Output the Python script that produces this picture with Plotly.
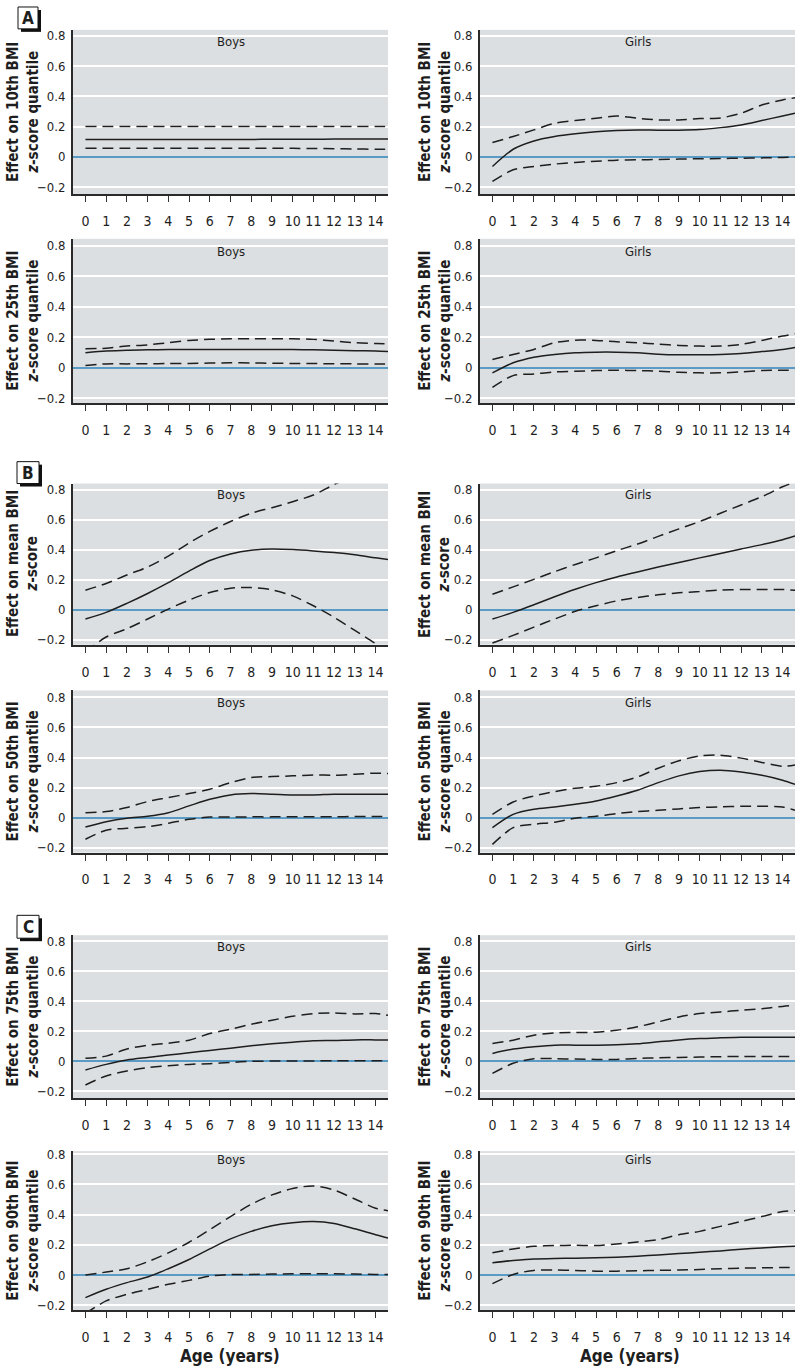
import plotly.graph_objects as go

ages = [0, 1, 2, 3, 4, 5, 6, 7, 8, 9, 10, 11, 12, 13, 14, 14.6]
x_ticks = list(range(15))
y_ticks = [-0.2, 0, 0.2, 0.4, 0.6, 0.8]
y_ticktext = ["\u22120.2", "0", "0.2", "0.4", "0.6", "0.8"]

# Panel A: 10th quantile
boys10_est = [0.115, 0.115, 0.115, 0.115, 0.115, 0.115, 0.115, 0.115, 0.115, 0.116, 0.116, 0.116, 0.117, 0.117, 0.118, 0.118]
boys10_hi = [0.2, 0.2, 0.2, 0.2, 0.2, 0.2, 0.2, 0.2, 0.2, 0.2, 0.2, 0.2, 0.2, 0.2, 0.2, 0.2]
boys10_lo = [0.057, 0.057, 0.057, 0.057, 0.057, 0.057, 0.057, 0.057, 0.057, 0.056, 0.056, 0.055, 0.054, 0.052, 0.05, 0.05]
girls10_est = [-0.064, 0.05, 0.105, 0.134, 0.152, 0.165, 0.174, 0.178, 0.176, 0.176, 0.18, 0.193, 0.211, 0.24, 0.27, 0.288]
girls10_hi = [0.095, 0.134, 0.178, 0.222, 0.24, 0.255, 0.27, 0.255, 0.244, 0.244, 0.253, 0.257, 0.288, 0.343, 0.376, 0.39]
girls10_lo = [-0.163, -0.086, -0.064, -0.048, -0.037, -0.029, -0.022, -0.02, -0.018, -0.015, -0.013, -0.011, -0.009, -0.007, -0.004, -0.002]

# Panel A: 25th quantile
boys25_est = [0.097, 0.108, 0.114, 0.116, 0.119, 0.119, 0.119, 0.119, 0.119, 0.119, 0.118, 0.117, 0.114, 0.111, 0.108, 0.105]
boys25_hi = [0.123, 0.127, 0.141, 0.149, 0.163, 0.178, 0.185, 0.189, 0.189, 0.189, 0.189, 0.185, 0.174, 0.163, 0.158, 0.156]
boys25_lo = [0.013, 0.024, 0.024, 0.025, 0.026, 0.027, 0.029, 0.031, 0.03, 0.028, 0.027, 0.026, 0.025, 0.024, 0.024, 0.024]
girls25_est = [-0.035, 0.031, 0.068, 0.086, 0.097, 0.101, 0.101, 0.097, 0.088, 0.084, 0.084, 0.086, 0.092, 0.105, 0.119, 0.132]
girls25_hi = [0.053, 0.086, 0.119, 0.163, 0.18, 0.178, 0.169, 0.163, 0.154, 0.145, 0.141, 0.141, 0.152, 0.178, 0.207, 0.222]
girls25_lo = [-0.13, -0.053, -0.042, -0.029, -0.024, -0.02, -0.018, -0.02, -0.024, -0.031, -0.035, -0.035, -0.029, -0.02, -0.018, -0.018]

# Panel B: mean
boysmean_est = [-0.062, -0.018, 0.042, 0.108, 0.18, 0.257, 0.327, 0.371, 0.396, 0.404, 0.4, 0.391, 0.38, 0.365, 0.345, 0.334]
boysmean_hi = [0.13, 0.174, 0.231, 0.284, 0.356, 0.444, 0.521, 0.587, 0.642, 0.679, 0.719, 0.763, 0.833, 0.89, 0.95, 0.99]
boysmean_lo = [-0.28, -0.182, -0.127, -0.062, 0.004, 0.064, 0.114, 0.143, 0.147, 0.132, 0.092, 0.026, -0.051, -0.138, -0.226, -0.29]
girlsmean_est = [-0.062, -0.018, 0.033, 0.086, 0.136, 0.18, 0.218, 0.251, 0.284, 0.314, 0.345, 0.374, 0.404, 0.433, 0.466, 0.49]
girlsmean_hi = [0.103, 0.152, 0.202, 0.253, 0.301, 0.345, 0.393, 0.437, 0.488, 0.538, 0.587, 0.642, 0.697, 0.752, 0.818, 0.85]
girlsmean_lo = [-0.222, -0.171, -0.116, -0.062, -0.011, 0.026, 0.059, 0.081, 0.099, 0.112, 0.121, 0.13, 0.134, 0.134, 0.134, 0.13]

# Panel B: 50th quantile
boys50_est = [-0.062, -0.027, -0.004, 0.009, 0.033, 0.078, 0.122, 0.151, 0.16, 0.156, 0.151, 0.151, 0.156, 0.156, 0.156, 0.156]
boys50_hi = [0.033, 0.04, 0.067, 0.107, 0.133, 0.16, 0.189, 0.233, 0.267, 0.273, 0.278, 0.284, 0.282, 0.289, 0.296, 0.294]
boys50_lo = [-0.144, -0.084, -0.071, -0.06, -0.038, -0.011, 0.004, 0.004, 0.005, 0.005, 0.006, 0.006, 0.006, 0.007, 0.007, 0.007]
girls50_est = [-0.067, 0.022, 0.056, 0.071, 0.089, 0.111, 0.144, 0.182, 0.233, 0.278, 0.307, 0.316, 0.304, 0.282, 0.249, 0.222]
girls50_hi = [0.022, 0.104, 0.144, 0.173, 0.196, 0.209, 0.233, 0.271, 0.329, 0.378, 0.411, 0.416, 0.396, 0.367, 0.342, 0.351]
girls50_lo = [-0.178, -0.067, -0.044, -0.031, -0.004, 0.009, 0.027, 0.04, 0.049, 0.058, 0.067, 0.071, 0.076, 0.076, 0.071, 0.049]

# Panel C: 75th quantile
boys75_est = [-0.057, -0.02, 0.009, 0.026, 0.042, 0.057, 0.073, 0.088, 0.104, 0.117, 0.128, 0.137, 0.139, 0.143, 0.143, 0.143]
boys75_hi = [0.02, 0.035, 0.082, 0.108, 0.121, 0.141, 0.185, 0.214, 0.247, 0.274, 0.3, 0.318, 0.322, 0.316, 0.318, 0.307]
boys75_lo = [-0.157, -0.097, -0.064, -0.042, -0.029, -0.02, -0.015, -0.007, 0.0, 0.002, 0.003, 0.003, 0.004, 0.004, 0.004, 0.004]
girls75_est = [0.053, 0.082, 0.097, 0.108, 0.108, 0.108, 0.11, 0.117, 0.13, 0.143, 0.152, 0.157, 0.161, 0.161, 0.161, 0.161]
girls75_hi = [0.119, 0.141, 0.174, 0.19, 0.192, 0.194, 0.207, 0.23, 0.263, 0.296, 0.318, 0.329, 0.34, 0.351, 0.366, 0.373]
girls75_lo = [-0.08, -0.013, 0.018, 0.018, 0.015, 0.013, 0.013, 0.02, 0.024, 0.026, 0.029, 0.031, 0.033, 0.033, 0.033, 0.033]

# Panel C: 90th quantile
boys90_est = [-0.149, -0.094, -0.05, -0.013, 0.042, 0.103, 0.173, 0.239, 0.289, 0.326, 0.346, 0.354, 0.341, 0.306, 0.267, 0.245]
boys90_hi = [0.0, 0.02, 0.042, 0.088, 0.147, 0.217, 0.3, 0.387, 0.468, 0.53, 0.573, 0.589, 0.562, 0.503, 0.442, 0.425]
boys90_lo = [-0.254, -0.171, -0.127, -0.094, -0.061, -0.035, -0.007, 0.004, 0.004, 0.007, 0.008, 0.008, 0.008, 0.007, 0.004, 0.004]
girls90_est = [0.081, 0.096, 0.107, 0.109, 0.112, 0.114, 0.118, 0.125, 0.133, 0.142, 0.151, 0.16, 0.171, 0.179, 0.188, 0.19]
girls90_hi = [0.147, 0.173, 0.19, 0.195, 0.197, 0.195, 0.206, 0.219, 0.234, 0.267, 0.289, 0.322, 0.354, 0.387, 0.42, 0.425]
girls90_lo = [-0.057, 0.004, 0.031, 0.033, 0.031, 0.026, 0.026, 0.028, 0.031, 0.033, 0.037, 0.042, 0.046, 0.048, 0.05, 0.05]

row_titles = [
    "Effect on 10th BMI<br><i>z</i>-score quantile",
    "Effect on 25th BMI<br><i>z</i>-score quantile",
    "Effect on mean BMI<br><i>z</i>-score",
    "Effect on 50th BMI<br><i>z</i>-score quantile",
    "Effect on 75th BMI<br><i>z</i>-score quantile",
    "Effect on 90th BMI<br><i>z</i>-score quantile",
]
sexes = ["Boys", "Girls"]
panels = [
    (boys10_est, boys10_hi, boys10_lo), (girls10_est, girls10_hi, girls10_lo),
    (boys25_est, boys25_hi, boys25_lo), (girls25_est, girls25_hi, girls25_lo),
    (boysmean_est, boysmean_hi, boysmean_lo), (girlsmean_est, girlsmean_hi, girlsmean_lo),
    (boys50_est, boys50_hi, boys50_lo), (girls50_est, girls50_hi, girls50_lo),
    (boys75_est, boys75_hi, boys75_lo), (girls75_est, girls75_hi, girls75_lo),
    (boys90_est, boys90_hi, boys90_lo), (girls90_est, girls90_hi, girls90_lo),
]

# ---- layout geometry (pixels) ----
W, H = 800, 1370
row_px = [(26, 191, 32, 184), (236, 401, 243, 396), (482, 644, 488, 639),
          (690, 853, 697, 848), (936, 1100, 942, 1093), (1153, 1313, 1156, 1308)]
col_px = [(73, 388), (480, 795)]
title_x = [23, 435]

FONT = "Liberation Sans Narrow, DejaVu Sans Condensed, Arial Narrow, sans-serif"
INK = "#1e1e1e"

fig = go.Figure()
layout = dict(
    width=W, height=H, margin=dict(l=0, r=0, t=0, b=0),
    paper_bgcolor="white", showlegend=False,
    font=dict(family=FONT, color=INK, size=13),
)
annotations = []
shapes = []

for k, (est, hi, lo) in enumerate(panels):
    r, c = divmod(k, 2)
    n = k + 1
    xa = "x" if n == 1 else f"x{n}"
    ya = "y" if n == 1 else f"y{n}"
    top, bot, p08, pm02 = row_px[r]
    ppu = (pm02 - p08) / 1.0
    ylo = -0.2 - (bot - pm02) / ppu
    yhi = 0.8 + (p08 - top) / ppu
    x0, x1 = col_px[c]
    for vals, dash in ((hi, "11px,6px"), (lo, "11px,6px"), (est, "solid")):
        fig.add_trace(go.Scatter(
            x=ages, y=vals, mode="lines", xaxis=xa, yaxis=ya,
            line=dict(color=INK, width=1.5, dash=dash, shape="spline", smoothing=0.8),
            hoverinfo="skip"))
    layout["xaxis" if n == 1 else f"xaxis{n}"] = dict(
        domain=[x0 / W, x1 / W], anchor=ya, range=[-0.6, 14.6],
        tickvals=x_ticks, ticks="outside", ticklen=6, tickwidth=1.3, tickcolor="#333",
        showline=True, linecolor="#2a2a2a", linewidth=2, showgrid=False, zeroline=False,
        tickfont=dict(size=14, family=FONT, color=INK), ticklabelstandoff=7,
        fixedrange=True)
    layout["yaxis" if n == 1 else f"yaxis{n}"] = dict(
        domain=[1 - bot / H, 1 - top / H], anchor=xa, range=[ylo, yhi],
        tickvals=y_ticks, ticktext=y_ticktext, ticks="",
        showline=True, linecolor="#2a2a2a", linewidth=2,
        showgrid=True, gridcolor="white", gridwidth=1.5,
        zeroline=True, zerolinecolor="#5a9bc5", zerolinewidth=1.8,
        tickfont=dict(size=13, family=FONT, color=INK), ticklabelstandoff=3,
        fixedrange=True)
    annotations.append(dict(
        x=7, y=0.765, xref=xa, yref=ya, text=sexes[c], showarrow=False,
        font=dict(size=13, family=FONT, color=INK), xanchor="center", yanchor="middle"))
    annotations.append(dict(
        x=title_x[c] / W, y=0.5, xref="paper", yref=f"{ya} domain",
        text=row_titles[r], showarrow=False, textangle=-90,
        font=dict(size=15, family=FONT, color=INK, weight="bold"),
        xanchor="center", yanchor="middle"))

layout["plot_bgcolor"] = "#dcdfe1"

# Section letters in shadowed boxes
for letter, (bx0, by0, bx1, by1) in (("A", (18, 3, 38, 25)), ("B", (17, 460, 39, 482)), ("C", (17, 916, 39, 939))):
    shapes.append(dict(type="rect", xref="paper", yref="paper",
                       x0=(bx0 + 3) / W, x1=(bx1 + 3) / W, y0=1 - (by1 + 3) / H, y1=1 - (by0 + 3) / H,
                       fillcolor="#111", line=dict(width=0)))
    shapes.append(dict(type="rect", xref="paper", yref="paper",
                       x0=bx0 / W, x1=bx1 / W, y0=1 - by1 / H, y1=1 - by0 / H,
                       fillcolor="white", line=dict(color="#111", width=1)))
    annotations.append(dict(x=(bx0 + bx1) / 2 / W, y=1 - (by0 + by1) / 2 / H, xref="paper", yref="paper",
                            text=letter, showarrow=False, xanchor="center", yanchor="middle",
                            font=dict(size=17, family=FONT, color=INK, weight="bold")))

for cx in (230, 630):
    annotations.append(dict(x=cx / W, y=1 - 1359 / H, xref="paper", yref="paper",
                            text="Age (years)", showarrow=False, xanchor="center", yanchor="middle",
                            font=dict(size=17, family=FONT, color=INK, weight="bold")))

layout["annotations"] = annotations
layout["shapes"] = shapes
fig.update_layout(**layout)
fig.write_html("out.html", config={"displayModeBar": False},
               post_script="document.body.style.margin='0';document.body.style.overflow='hidden';")
